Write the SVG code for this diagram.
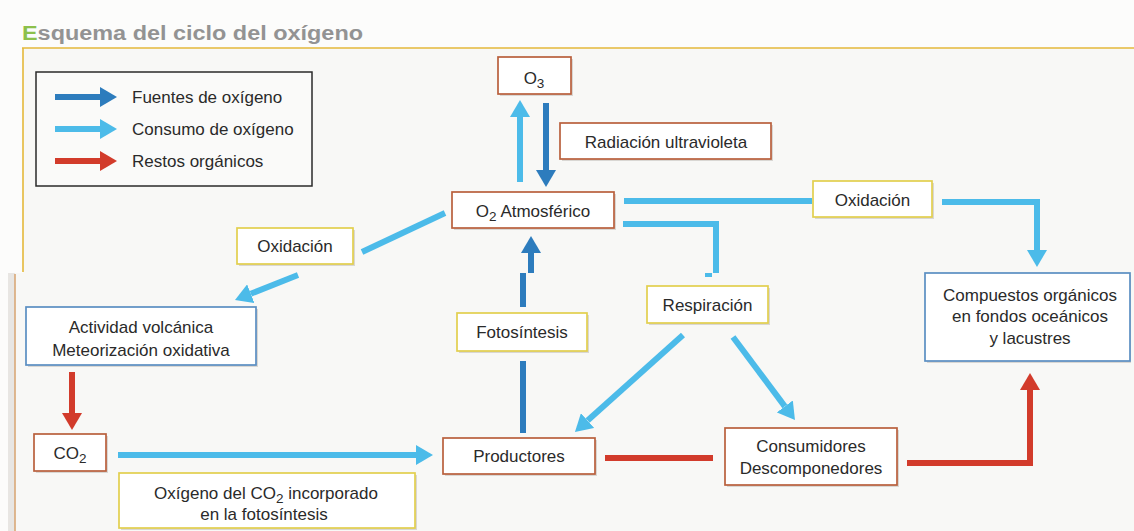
<svg xmlns="http://www.w3.org/2000/svg" width="1134" height="531" viewBox="0 0 1134 531">
<style>
text{font-family:"Liberation Sans","DejaVu Sans",sans-serif;font-size:17px;fill:#2a2a2a}
.t{text-anchor:middle}
.sub{font-size:13.5px}
.box{fill:#ffffff;stroke-width:1.7}
.sh{fill:#b9b6b0;opacity:.5}
.br{stroke:#b9603c}
.yl{stroke:#e2cf4e}
.bl{stroke:#5b8fc2}
.lb{stroke:#4cbbe9;stroke-width:6;fill:none}
.db{stroke:#2d7cbd;stroke-width:6;fill:none}
.rd{stroke:#d23b2b;stroke-width:6;fill:none}
</style>
<defs>
<marker id="aLB" markerUnits="userSpaceOnUse" markerWidth="18" markerHeight="20" refX="0" refY="10" orient="auto"><path d="M0,0 L17,10 L0,20 z" fill="#4cbbe9"/></marker>
<marker id="aDB" markerUnits="userSpaceOnUse" markerWidth="18" markerHeight="20" refX="0" refY="10" orient="auto"><path d="M0,0 L17,10 L0,20 z" fill="#2d7cbd"/></marker>
<marker id="aRD" markerUnits="userSpaceOnUse" markerWidth="18" markerHeight="20" refX="0" refY="10" orient="auto"><path d="M0,0 L17,10 L0,20 z" fill="#d23b2b"/></marker>
</defs>
<!-- page background -->
<rect x="0" y="0" width="1134" height="531" fill="#fcfcfb"/>
<rect x="23" y="48" width="1111" height="225" fill="#f8f8f6"/>
<rect x="8" y="273" width="1126" height="258" fill="#f8f8f6"/>
<rect x="8" y="273" width="7" height="258" fill="#e8e6e3"/>
<line x1="22" y1="48" x2="1134" y2="48" stroke="#e4b83a" stroke-width="1.6"/>
<line x1="23" y1="48" x2="23" y2="272" stroke="#e4b83a" stroke-width="1.6"/>
<line x1="15" y1="274" x2="15" y2="531" stroke="#d9a877" stroke-width="1.6"/>
<!-- title -->
<text x="22" y="40" textLength="341" lengthAdjust="spacingAndGlyphs" style="font-size:20px;font-weight:bold;fill:#939393"><tspan style="fill:#8cc04b">E</tspan>squema del ciclo del oxígeno</text>
<!-- legend -->
<g id="legend">
<rect x="36" y="72" width="276" height="114" fill="#fafaf9" stroke="#2a2a2a" stroke-width="1.5"/>
<path class="db" d="M55,97 H100" marker-end="url(#aDB)"/>
<path class="lb" d="M55,129 H100" marker-end="url(#aLB)"/>
<path class="rd" d="M55,161 H100" marker-end="url(#aRD)"/>
<text x="132" y="103">Fuentes de oxígeno</text>
<text x="132" y="135">Consumo de oxígeno</text>
<text x="132" y="167">Restos orgánicos</text>
</g>
<!-- connectors -->
<g id="connectors">
<path class="lb" d="M520,182 V117" marker-end="url(#aLB)"/>
<path class="db" d="M546,103 V170" marker-end="url(#aDB)"/>
<path class="db" d="M531,273 V253" marker-end="url(#aDB)"/>
<path class="db" d="M523,273 V307"/>
<path class="db" d="M523,361 V433"/>
<path class="lb" d="M445,213 L362,252"/>
<path class="lb" d="M298,275 L250.8,293.7" marker-end="url(#aLB)"/>
<path class="lb" d="M624,201 H812"/>
<path class="lb" d="M942,202 H1037 V250" marker-end="url(#aLB)"/>
<path class="lb" d="M623,224 H716 V273"/>
<rect x="705" y="273" width="7" height="4" fill="#4cbbe9"/>
<path class="lb" d="M118,455 H416" marker-end="url(#aLB)"/>
<path class="lb" d="M683,335 L587.6,420.6" marker-end="url(#aLB)"/>
<path class="lb" d="M733,337 L784.8,406.4" marker-end="url(#aLB)"/>
<path class="rd" d="M605,458 H713"/>
<path class="rd" d="M907,463 H1030 V390" marker-end="url(#aRD)"/>
<path class="rd" d="M72,372 V413" marker-end="url(#aRD)"/>
</g>
<!-- nodes -->
<g id="o3">
<rect class="sh" x="500" y="59" width="73" height="37"/>
<rect class="box br" x="498" y="57" width="73" height="37"/>
<text class="t" x="534" y="84">O<tspan class="sub" dy="4">3</tspan></text>
</g>
<g id="radiacion">
<rect class="sh" x="562" y="125" width="211" height="36"/>
<rect class="box br" x="560" y="123" width="211" height="36"/>
<text class="t" x="666" y="148">Radiación ultravioleta</text>
</g>
<g id="o2">
<rect class="sh" x="454" y="194" width="162" height="36"/>
<rect class="box br" x="452" y="192" width="162" height="36"/>
<text class="t" x="533" y="217">O<tspan class="sub" dy="4">2</tspan><tspan dy="-4"> Atmosférico</tspan></text>
</g>
<g id="oxidacion-der">
<rect class="sh" x="815" y="183" width="119" height="36"/>
<rect class="box yl" x="813" y="181" width="119" height="36"/>
<text class="t" x="872.5" y="206">Oxidación</text>
</g>
<g id="oxidacion-izq">
<rect class="sh" x="239" y="230" width="116" height="36"/>
<rect class="box yl" x="237" y="228" width="116" height="36"/>
<text class="t" x="295" y="252">Oxidación</text>
</g>
<g id="actividad">
<rect class="sh" x="28" y="309" width="230" height="58"/>
<rect class="box bl" x="26" y="307" width="230" height="58"/>
<text class="t" x="141" y="333">Actividad volcánica</text>
<text class="t" x="141" y="356">Meteorización oxidativa</text>
</g>
<g id="co2">
<rect class="sh" x="36" y="436" width="72" height="37"/>
<rect class="box br" x="34" y="434" width="72" height="37"/>
<text class="t" x="70" y="459">CO<tspan class="sub" dy="4">2</tspan></text>
</g>
<g id="oxigeno-co2">
<rect class="sh" x="121" y="475" width="296" height="55"/>
<rect class="box yl" x="119" y="473" width="296" height="55"/>
<text class="t" x="266" y="499">Oxígeno del CO<tspan class="sub" dy="4">2</tspan><tspan dy="-4"> incorporado</tspan></text>
<text class="t" x="264" y="520">en la fotosíntesis</text>
</g>
<g id="fotosintesis">
<rect class="sh" x="459" y="315" width="130" height="38"/>
<rect class="box yl" x="457" y="313" width="130" height="38"/>
<text class="t" x="522" y="338">Fotosíntesis</text>
</g>
<g id="respiracion">
<rect class="sh" x="649" y="288" width="121" height="37"/>
<rect class="box yl" x="647" y="286" width="121" height="37"/>
<text class="t" x="707.5" y="311">Respiración</text>
</g>
<g id="productores">
<rect class="sh" x="445" y="440" width="152" height="36"/>
<rect class="box br" x="443" y="438" width="152" height="36"/>
<text class="t" x="519" y="462">Productores</text>
</g>
<g id="consumidores">
<rect class="sh" x="727" y="430" width="172" height="57"/>
<rect class="box br" x="725" y="428" width="172" height="57"/>
<text class="t" x="811" y="452">Consumidores</text>
<text class="t" x="811" y="474">Descomponedores</text>
</g>
<g id="compuestos">
<rect class="sh" x="927" y="275" width="204" height="88"/>
<rect class="box bl" x="925" y="273" width="205" height="88"/>
<text class="t" x="1030" y="301">Compuestos orgánicos</text>
<text class="t" x="1030" y="322">en fondos oceánicos</text>
<text class="t" x="1030" y="344">y lacustres</text>
</g>
</svg>
